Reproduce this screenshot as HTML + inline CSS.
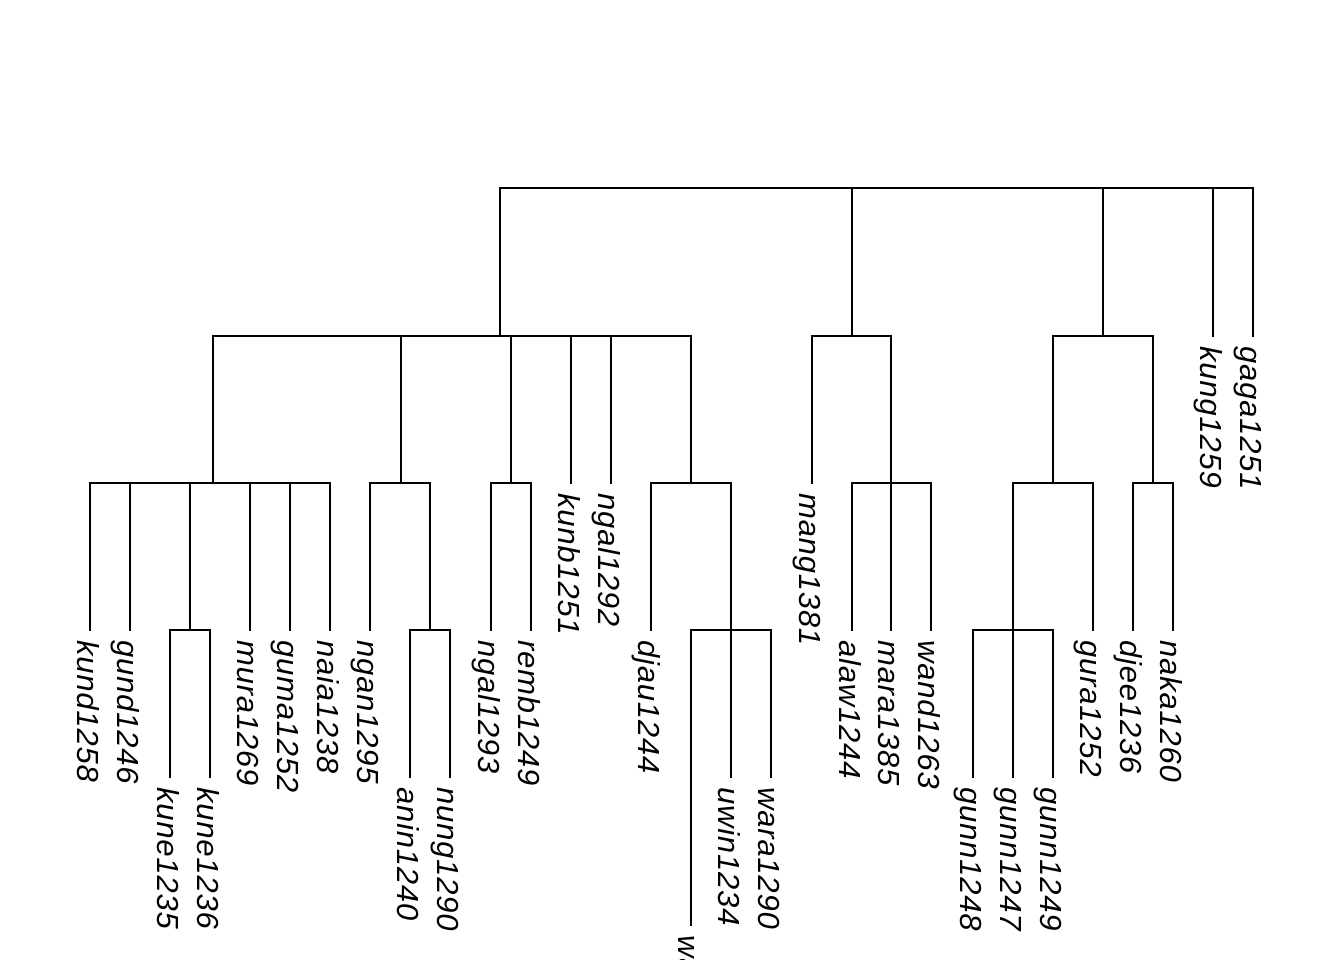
<!DOCTYPE html>
<html><head><meta charset="utf-8"><style>html,body{margin:0;padding:0;background:#fff;overflow:hidden}svg{display:block}
.t text{font-family:"Liberation Sans",Arial,sans-serif;font-style:italic;font-size:31px;letter-spacing:0.8px;fill:#000}</style></head>
<body>
<svg width="1344" height="960" viewBox="0 0 1344 960" xmlns="http://www.w3.org/2000/svg">
<g stroke="#000" stroke-width="2" fill="none" stroke-linecap="square">
<path d="M500 188H1253 M500 188V336 M852 188V336 M1103 188V336 M1213 188V336 M1253 188V336"/>
<path d="M213 336H691 M213 336V483 M401 336V483 M511 336V483 M571 336V483 M611 336V483 M691 336V483"/>
<path d="M812 336H891 M812 336V483 M891 336V483"/>
<path d="M1053 336H1153 M1053 336V483 M1153 336V483"/>
<path d="M90 483H330 M90 483V630 M130 483V630 M190 483V630 M250 483V630 M290 483V630 M330 483V630"/>
<path d="M370 483H430 M370 483V630 M430 483V630"/>
<path d="M491 483H531 M491 483V630 M531 483V630"/>
<path d="M651 483H731 M651 483V630 M731 483V630"/>
<path d="M852 483H931 M852 483V630 M891 483V630 M931 483V630"/>
<path d="M1013 483H1093 M1013 483V630 M1093 483V630"/>
<path d="M1133 483H1173 M1133 483V630 M1173 483V630"/>
<path d="M170 630H210 M170 630V777 M210 630V777"/>
<path d="M410 630H450 M410 630V777 M450 630V777"/>
<path d="M691 630H771 M691 630V925 M731 630V777 M771 630V777"/>
<path d="M973 630H1053 M973 630V777 M1013 630V777 M1053 630V777"/>
</g>
<g class="t">
<text transform="translate(1200,346) rotate(90)">kung1259</text>
<text transform="translate(1240,346) rotate(90)">gaga1251</text>
<text transform="translate(558,493) rotate(90)">kunb1251</text>
<text transform="translate(598,493) rotate(90)">ngal1292</text>
<text transform="translate(799,493) rotate(90)">mang1381</text>
<text transform="translate(77,640) rotate(90)">kund1258</text>
<text transform="translate(117,640) rotate(90)">gund1246</text>
<text transform="translate(237,640) rotate(90)">mura1269</text>
<text transform="translate(277,640) rotate(90)">guma1252</text>
<text transform="translate(317,640) rotate(90)">naia1238</text>
<text transform="translate(357,640) rotate(90)">ngan1295</text>
<text transform="translate(478,640) rotate(90)">ngal1293</text>
<text transform="translate(518,640) rotate(90)">remb1249</text>
<text transform="translate(638,640) rotate(90)">djau1244</text>
<text transform="translate(839,640) rotate(90)">alaw1244</text>
<text transform="translate(878,640) rotate(90)">mara1385</text>
<text transform="translate(918,640) rotate(90)">wand1263</text>
<text transform="translate(1080,640) rotate(90)">gura1252</text>
<text transform="translate(1120,640) rotate(90)">djee1236</text>
<text transform="translate(1160,640) rotate(90)">naka1260</text>
<text transform="translate(157,787) rotate(90)">kune1235</text>
<text transform="translate(197,787) rotate(90)">kune1236</text>
<text transform="translate(397,787) rotate(90)">anin1240</text>
<text transform="translate(437,787) rotate(90)">nung1290</text>
<text transform="translate(718,787) rotate(90)">uwin1234</text>
<text transform="translate(758,787) rotate(90)">wara1290</text>
<text transform="translate(960,787) rotate(90)">gunn1248</text>
<text transform="translate(1000,787) rotate(90)">gunn1247</text>
<text transform="translate(1040,787) rotate(90)">gunn1249</text>
<text transform="translate(678,935) rotate(90)">wara1291</text>
</g>
</svg>
</body></html>
